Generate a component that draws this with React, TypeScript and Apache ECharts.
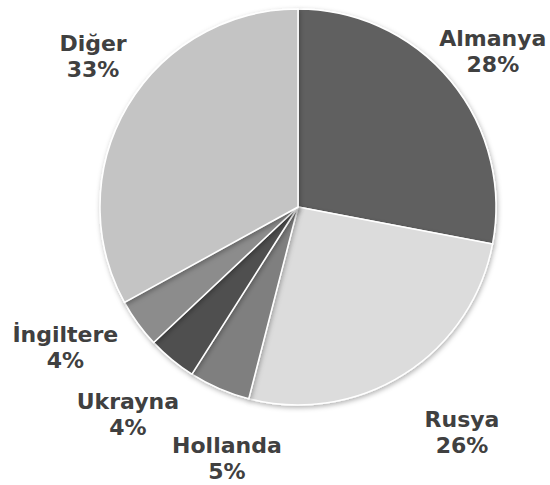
import React, { useEffect, useRef } from "react";
import * as echarts from "echarts";

const categories = ["Almanya", "Rusya", "Hollanda", "Ukrayna", "İngiltere", "Diğer"];
const shares = [28, 26, 5, 4, 4, 33];
const sliceColors = ["#606060", "#dcdcdc", "#7f7f7f", "#505050", "#8c8c8c", "#c4c4c4"];
// label placement: radial distance (px) and angular nudge (deg) from slice mid-angle
const labelDistance = [249, 279, 261, 268, 272, 254];
const labelAngleShift = [1.1, -3.6, -7.6, -0.2, 4.8, 5.6];

const CX = 298;
const CY = 207;
const R = 198;

export default function App() {
  const ref = useRef<HTMLDivElement>(null);
  useEffect(() => {
    if (!ref.current) return;
    const chart = echarts.init(ref.current, undefined, { renderer: "svg" });
    const total = shares.reduce((a, b) => a + b, 0);
    const mids: number[] = [];
    let acc = 0;
    shares.forEach((v) => {
      mids.push(((acc + v / 2) / total) * 360);
      acc += v;
    });
    chart.setOption({
      animation: false,
      backgroundColor: "#ffffff",
      series: [
        {
          type: "pie",
          center: [CX, CY],
          radius: [0, R],
          startAngle: 90,
          clockwise: true,
          avoidLabelOverlap: false,
          data: categories.map((name, i) => ({
            name,
            value: shares[i],
            itemStyle: { color: sliceColors[i] },
          })),
          itemStyle: {
            borderColor: "#ffffff",
            borderWidth: 1.5,
            shadowBlur: 5,
            shadowOffsetX: 1,
            shadowOffsetY: 2,
            shadowColor: "rgba(0,0,0,0.3)",
          },
          label: {
            show: true,
            position: "outside",
            formatter: "{b}\n{c}%",
            fontFamily: "DejaVu Sans",
            fontWeight: "bold",
            fontSize: 22,
            lineHeight: 26,
            color: "#404040",
          },
          labelLine: { show: false },
          labelLayout: (params: any) => {
            const i = params.dataIndex;
            const a = ((mids[i] + labelAngleShift[i]) * Math.PI) / 180;
            return {
              x: CX + labelDistance[i] * Math.sin(a),
              y: CY - labelDistance[i] * Math.cos(a),
              align: "center",
              verticalAlign: "middle",
            };
          },
          emphasis: { disabled: true },
        },
      ],
    });
    return () => chart.dispose();
  }, []);
  return (
    <div
      ref={ref}
      style={{ position: "fixed", left: 0, top: 0, width: 550, height: 485 }}
    />
  );
}
